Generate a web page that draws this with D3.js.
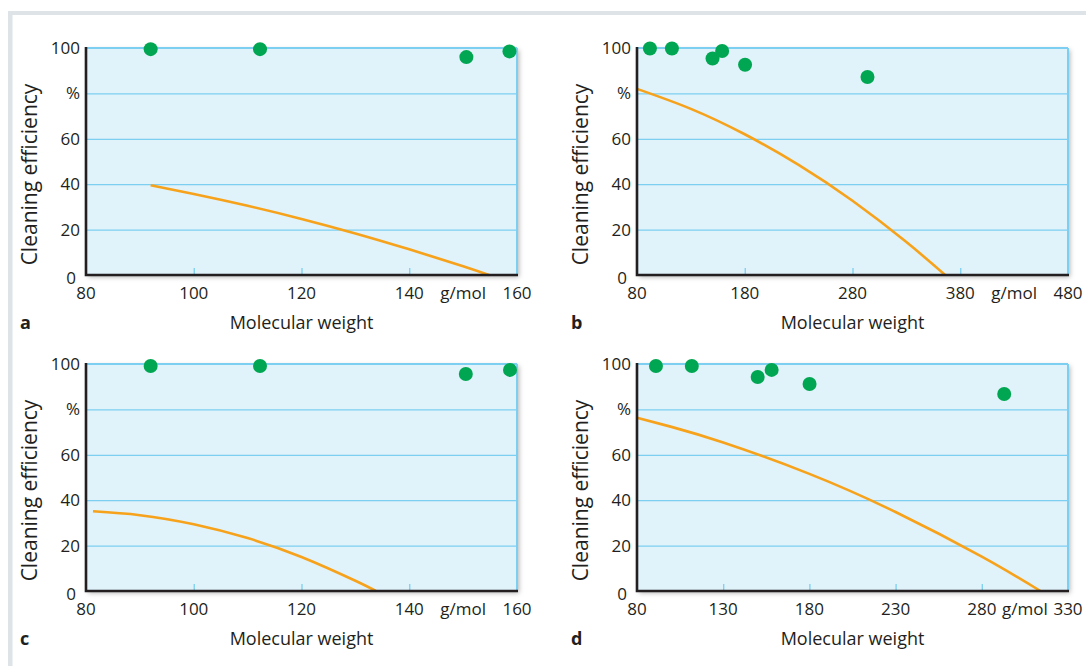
<!DOCTYPE html>
<html>
<head>
<meta charset="utf-8">
<script src="https://cdn.jsdelivr.net/npm/d3@7"></script>
<style>
  body { margin: 0; background: #fff; }
  svg text { font-family: "Open Sans", sans-serif; fill: #231f20; }
</style>
</head>
<body>
<div id="chart"></div>
<script>
// Chart size
const width = 1086;
const height = 666;

// Panel data (molecular weight in g/mol, cleaning efficiency in %)
const yTicks = [0, 20, 40, 60, 80, 100];
const yTickLabels = ["0", "20", "40", "60", "%", "100"];

const aTicks = [80, 100, 120, 140, 160];
const aPointsX = [92, 112.3, 150.6, 158.6];
const aPointsY = [99.5, 99.5, 96, 98.5];
const aCurveX = [92, 100, 110, 120, 130, 140, 150, 154.8];
const aCurveY = [39.5, 35.7, 30.5, 24.7, 18.3, 11.3, 3.9, 0];

const bTicks = [80, 180, 280, 380, 480];
const bPointsX = [92, 112.4, 150.1, 159, 180.3, 293.9];
const bPointsY = [99.8, 99.8, 95.4, 98.7, 92.6, 87.2];
const bCurveX = [80, 130, 180, 230, 280, 330, 366];
const bCurveY = [82, 73.2, 62, 48.5, 32.7, 14.5, 0];

const cTicks = [80, 100, 120, 140, 160];
const cPointsX = [92, 112.3, 150.5, 158.7];
const cPointsY = [99.1, 99.1, 95.6, 97.4];
const cCurveX = [81.3, 90, 100, 110, 120, 130, 133.8];
const cCurveY = [35.1, 33.4, 29.4, 23.3, 15.0, 4.5, 0];

const dTicks = [80, 130, 180, 230, 280, 330];
const dPointsX = [91, 111.8, 150, 158.1, 180.1, 293];
const dPointsY = [99.1, 99.1, 94.3, 97.4, 91.2, 86.8];
const dCurveX = [80, 100, 130, 180, 230, 280, 314];
const dCurveY = [76.3, 72.3, 65.4, 51.6, 34.8, 15.1, 0];

const panels = [
  { letter: "a", left: 86, top: 48, ticks: aTicks, unitAt: 150, px: aPointsX, py: aPointsY, cx: aCurveX, cy: aCurveY },
  { letter: "b", left: 637, top: 48, ticks: bTicks, unitAt: 430, px: bPointsX, py: bPointsY, cx: bCurveX, cy: bCurveY },
  { letter: "c", left: 86, top: 364, ticks: cTicks, unitAt: 150, px: cPointsX, py: cPointsY, cx: cCurveX, cy: cCurveY },
  { letter: "d", left: 637, top: 364, ticks: dTicks, unitAt: 305, px: dPointsX, py: dPointsY, cx: dCurveX, cy: dCurveY },
];

const plotW = 431;
const plotH = 227;
const tickSize = 17;
const titleSize = 18;

const svg = d3.select("#chart")
  .append("svg")
  .attr("width", width)
  .attr("height", height);

// Drop shadow for the plot boxes
const defs = svg.append("defs");
defs.append("filter")
  .attr("id", "shadow")
  .attr("x", "-5%").attr("y", "-5%")
  .attr("width", "115%").attr("height", "120%")
  .append("feDropShadow")
  .attr("dx", 2).attr("dy", 2)
  .attr("stdDeviation", 2.5)
  .attr("flood-color", "#000")
  .attr("flood-opacity", 0.3);

// Grey frame (top and left)
svg.append("rect").attr("x", 8).attr("y", 11).attr("width", width - 8).attr("height", 4).attr("fill", "#dde3e7");
svg.append("rect").attr("x", 8).attr("y", 11).attr("width", 4.5).attr("height", height - 11).attr("fill", "#dde3e7");

panels.forEach((p) => {
  const domain = [p.ticks[0], p.ticks[p.ticks.length - 1]];
  const x = d3.scaleLinear().domain(domain).range([p.left, p.left + plotW]);
  const y = d3.scaleLinear().domain([0, 100]).range([p.top + plotH, p.top]);
  const bottom = p.top + plotH;
  const right = p.left + plotW;

  const g = svg.append("g");

  // Background with shadow
  g.append("rect")
    .attr("x", p.left).attr("y", p.top)
    .attr("width", plotW).attr("height", plotH)
    .attr("fill", "#e0f2fa")
    .attr("filter", "url(#shadow)");

  // Grid lines
  g.append("g")
    .attr("transform", `translate(${p.left},0)`)
    .call(d3.axisLeft(y).tickValues([20, 40, 60, 80]).tickSize(-plotW).tickFormat(""))
    .call((s) => s.select(".domain").remove())
    .call((s) => s.selectAll("line").attr("stroke", "#7ccff0").attr("stroke-width", 1.3));

  // Small tick marks on bottom
  g.append("g")
    .attr("transform", `translate(0,${bottom})`)
    .call(d3.axisTop(x).tickValues(p.ticks.slice(1, -1)).tickSize(7).tickFormat(""))
    .call((s) => s.select(".domain").remove())
    .call((s) => s.selectAll("line").attr("stroke", "#7ccff0").attr("stroke-width", 1.3));

  // Top and right borders
  g.append("line")
    .attr("x1", p.left).attr("x2", right).attr("y1", p.top).attr("y2", p.top)
    .attr("stroke", "#7ccff0").attr("stroke-width", 2);
  g.append("line")
    .attr("x1", right).attr("x2", right).attr("y1", p.top).attr("y2", bottom)
    .attr("stroke", "#7ccff0").attr("stroke-width", 2);

  // Curve
  const line = d3.line()
    .x((d) => x(d[0]))
    .y((d) => y(d[1]))
    .curve(d3.curveNatural);
  g.append("path")
    .datum(d3.zip(p.cx, p.cy))
    .attr("d", line)
    .attr("fill", "none")
    .attr("stroke", "#f7a21b")
    .attr("stroke-width", 2.6);

  // Black axis lines (left and bottom)
  g.append("path")
    .attr("d", `M${p.left},${p.top - 1}V${bottom}H${right + 1}`)
    .attr("fill", "none")
    .attr("stroke", "#231f20")
    .attr("stroke-width", 2.6);

  // Dots
  g.selectAll(".dot")
    .data(d3.zip(p.px, p.py))
    .enter()
    .append("circle")
    .attr("class", "dot")
    .attr("cx", (d) => x(d[0]))
    .attr("cy", (d) => y(d[1]))
    .attr("r", 7)
    .attr("fill", "#00a651");

  // Y tick labels
  yTicks.forEach((v, i) => {
    const isZero = v === 0;
    g.append("text")
      .attr("x", isZero ? p.left - 10 : p.left - 6)
      .attr("y", isZero ? y(v) + 3 : y(v))
      .attr("dy", "0.35em")
      .attr("text-anchor", "end")
      .attr("font-size", tickSize)
      .text(yTickLabels[i]);
  });

  // X tick labels
  p.ticks.forEach((v) => {
    g.append("text")
      .attr("x", x(v))
      .attr("y", bottom + 18)
      .attr("dy", "0.35em")
      .attr("text-anchor", "middle")
      .attr("font-size", tickSize)
      .text(v);
  });

  // Unit
  g.append("text")
    .attr("x", x(p.unitAt))
    .attr("y", bottom + 18)
    .attr("dy", "0.35em")
    .attr("text-anchor", "middle")
    .attr("font-size", tickSize)
    .text("g/mol");

  // Axis titles
  g.append("text")
    .attr("x", p.left + plotW / 2)
    .attr("y", bottom + 48)
    .attr("dy", "0.35em")
    .attr("text-anchor", "middle")
    .attr("font-size", titleSize)
    .text("Molecular weight");

  g.append("text")
    .attr("transform", `translate(${p.left - 56},${p.top + plotH / 2 + 13}) rotate(-90)`)
    .attr("dy", "0.35em")
    .attr("text-anchor", "middle")
    .attr("font-size", 21)
    .text("Cleaning efficiency");

  // Panel letter
  g.append("text")
    .attr("x", p.left - 66)
    .attr("y", bottom + 54)
    .attr("font-size", titleSize)
    .attr("font-weight", "bold")
    .text(p.letter);
});
</script>
</body>
</html>
